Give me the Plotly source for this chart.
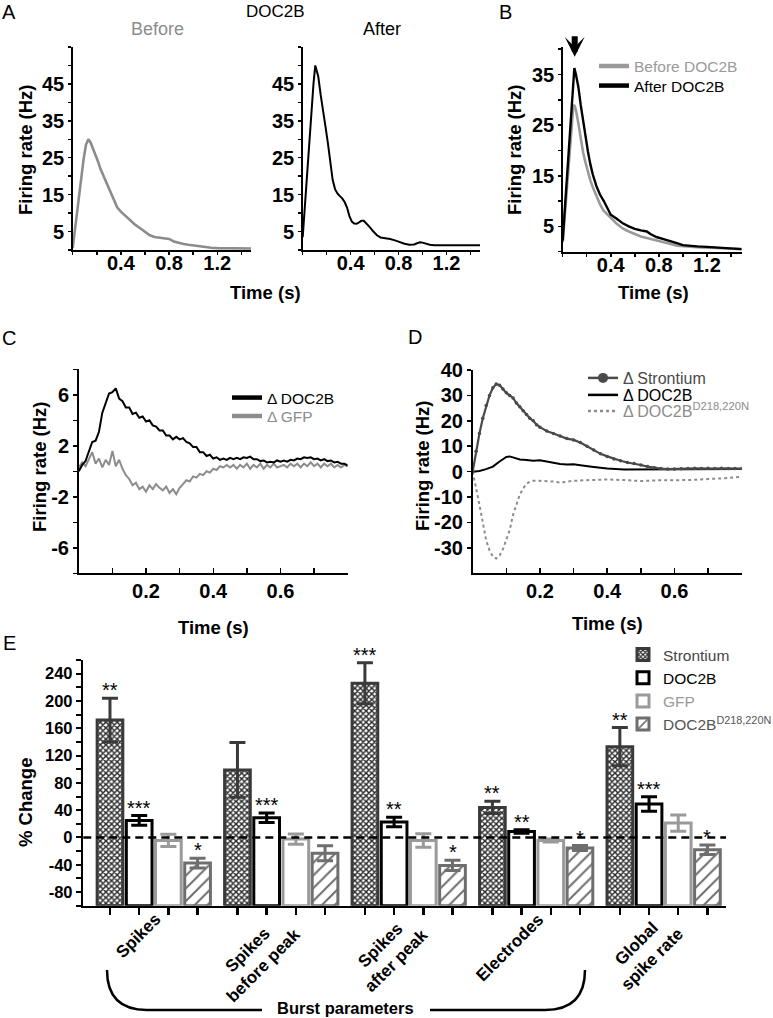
import plotly.graph_objects as go

W, H = 773, 1018
FONT = "Liberation Sans, Arial, Helvetica, sans-serif"

# ---------------- Panel A : DOC2B, before / after ----------------
a_before_t = [0, 0.03, 0.06, 0.09, 0.11, 0.13, 0.15, 0.17, 0.19, 0.21, 0.23, 0.25, 0.28, 0.31, 0.34,
              0.37, 0.40, 0.44, 0.48, 0.52, 0.56, 0.60, 0.64, 0.68, 0.72, 0.76, 0.80, 0.84, 0.88,
              0.92, 0.96, 1.00, 1.05, 1.10, 1.15, 1.20, 1.25, 1.30, 1.35, 1.40, 1.45, 1.48]
a_before_hz = [0.5, 9, 17.5, 24.5, 28.5, 30, 29, 27.5, 25.5, 24, 22, 20.5, 18, 15.5, 13.3,
               11.5, 10.4, 9.2, 7.9, 6.8, 5.9, 4.9, 4.0, 3.5, 3.4, 3.3, 3.0, 2.3, 1.9,
               1.6, 1.4, 1.2, 0.9, 0.7, 0.6, 0.5, 0.5, 0.45, 0.45, 0.4, 0.4, 0.4]
a_after_t = [0, 0.03, 0.06, 0.09, 0.105, 0.12, 0.13, 0.15, 0.17, 0.19, 0.21, 0.23, 0.25, 0.27,
             0.29, 0.31, 0.33, 0.35, 0.37, 0.39, 0.41, 0.43, 0.45, 0.47, 0.49, 0.51, 0.53, 0.56,
             0.59, 0.62, 0.65, 0.69, 0.73, 0.77, 0.81, 0.85, 0.89, 0.93, 0.96, 0.98, 1.00, 1.03,
             1.06, 1.10, 1.15, 1.20, 1.25, 1.30, 1.35, 1.40, 1.45, 1.48]
a_after_hz = [3.5, 18, 31.5, 45, 50, 48, 47, 42, 37, 33.5, 29, 24, 19, 16.5,
              15.3, 14.6, 14, 13, 11.5, 9.2, 7.7, 7.2, 7.1, 7.5, 7.9, 7.9, 7.3, 6.2,
              5.0, 4.0, 3.4, 3.3, 3.0, 2.6, 2.1, 1.7, 1.4, 1.5, 1.9, 2.1, 2.0, 1.6,
              1.4, 1.3, 1.3, 1.4, 1.4, 1.4, 1.5, 1.4, 1.4, 1.3]
a_xticks = [0.4, 0.8, 1.2]
a_yticks = [5, 15, 25, 35, 45]

# ---------------- Panel B : averaged before / after ----------------
b_before_t = [0, 0.03, 0.06, 0.089, 0.10, 0.11, 0.13, 0.15, 0.17, 0.19, 0.21, 0.23, 0.25, 0.28,
              0.31, 0.34, 0.37, 0.40, 0.45, 0.50, 0.55, 0.60, 0.65, 0.70, 0.76, 0.84, 0.90,
              0.95, 1.00, 1.06, 1.15, 1.28, 1.38, 1.49]
b_before_hz = [1.85, 11, 20.1, 29, 28.8, 28, 25.4, 22.3, 19.6, 17.6, 15.8, 14.1, 12.8, 11,
               9.4, 8.1, 7.3, 6.7, 5.5, 4.6, 4.0, 3.5, 3.0, 2.7, 2.3, 1.85, 1.5,
               1.2, 1.1, 1.0, 0.85, 0.73, 0.6, 0.5]
b_after_t = [0, 0.03, 0.06, 0.09, 0.097, 0.11, 0.13, 0.15, 0.17, 0.19, 0.21, 0.23, 0.25, 0.28,
             0.31, 0.34, 0.37, 0.40, 0.45, 0.50, 0.55, 0.60, 0.65, 0.70, 0.73, 0.78, 0.84,
             0.89, 0.95, 1.00, 1.06, 1.12, 1.20, 1.28, 1.36, 1.44, 1.49]
b_after_hz = [2.2, 12.7, 23.2, 33.8, 36.3, 35, 32.6, 29, 25.6, 22.5, 19.8, 17.3, 15.3, 13,
              11.3, 10.1, 8.6, 7.3, 6.5, 5.6, 5.0, 4.5, 4.2, 4.0, 3.5, 2.9, 2.5,
              2.2, 1.7, 1.3, 1.1, 1.05, 0.95, 0.85, 0.7, 0.55, 0.5]
b_yticks = [5, 15, 25, 35]
b_legend = ["Before DOC2B", "After DOC2B"]

# ---------------- Panel C : delta DOC2B / delta GFP ----------------
c_t = [0.00, 0.01, 0.02, 0.03, 0.04, 0.05, 0.06, 0.07, 0.08, 0.09,
       0.10, 0.11, 0.12, 0.13, 0.14, 0.15, 0.16, 0.17, 0.18, 0.19,
       0.20, 0.21, 0.22, 0.23, 0.24, 0.25, 0.26, 0.27, 0.28, 0.29,
       0.30, 0.31, 0.32, 0.33, 0.34, 0.35, 0.36, 0.37, 0.38, 0.39,
       0.40, 0.41, 0.42, 0.43, 0.44, 0.45, 0.46, 0.47, 0.48, 0.49,
       0.50, 0.51, 0.52, 0.53, 0.54, 0.55, 0.56, 0.57, 0.58, 0.59,
       0.60, 0.61, 0.62, 0.63, 0.64, 0.65, 0.66, 0.67, 0.68, 0.69,
       0.70, 0.71, 0.72, 0.73, 0.74, 0.75, 0.76, 0.77, 0.78, 0.79, 0.80]
c_doc2b = [0.0, 0.5, 0.8, 1.6, 2.3, 2.4, 3.1, 4.6, 5.3, 6.1,
           6.2, 6.5, 5.7, 5.5, 5.0, 5.0, 4.5, 4.6, 4.2, 4.3,
           3.9, 4.0, 3.6, 3.5, 3.2, 3.2, 2.8, 2.8, 2.5, 2.7,
           2.5, 2.6, 2.3, 2.2, 1.9, 1.9, 1.5, 1.5, 1.2, 1.3,
           1.0, 1.1, 0.9, 1.0, 0.9, 1.05, 0.95, 1.05, 0.95, 1.1,
           1.05, 1.15, 0.95, 0.95, 0.8, 0.85, 0.7, 0.75, 0.7, 0.85,
           0.75, 0.85, 0.75, 0.9, 0.85, 1.0, 0.95, 1.1, 1.05, 1.1,
           0.95, 1.0, 0.85, 0.95, 0.8, 0.85, 0.7, 0.75, 0.6, 0.6, 0.45]
c_gfp = [0.3, 0.7, 0.4, 0.9, 1.5, 0.6, 1.0, 0.3, 0.9, 0.5,
         1.6, 0.4, 0.9, 0.2, -0.3, -0.6, -1.1, -0.9, -1.4, -1.2,
         -1.6, -1.1, -1.4, -1.0, -1.3, -1.5, -1.2, -1.7, -1.4, -1.8,
         -1.3, -1.0, -0.7, -0.8, -0.4, -0.5, -0.2, -0.3, 0.0, -0.1,
         0.2, 0.1, 0.4, 0.3, 0.5, 0.3, 0.5, 0.2, 0.5, 0.3,
         0.6, 0.2, 0.5, 0.3, 0.6, 0.2, 0.5, 0.3, 0.6, 0.3,
         0.4, 0.5, 0.3, 0.6, 0.4, 0.6, 0.3, 0.6, 0.4, 0.7,
         0.4, 0.6, 0.3, 0.6, 0.4, 0.6, 0.3, 0.5, 0.3, 0.5, 0.4]
c_xticks = [0.2, 0.4, 0.6]
c_yticks = [-6, -2, 2, 6]
c_legend = ["Δ DOC2B", "Δ GFP"]

# ---------------- Panel D : delta Strontium / DOC2B / mutant ----------------
d_sr_t = [0, 0.01, 0.02, 0.03, 0.04, 0.05, 0.06, 0.07, 0.08, 0.09, 0.10, 0.11, 0.12, 0.13, 0.14,
          0.15, 0.16, 0.17, 0.18, 0.19, 0.20, 0.22, 0.24, 0.26, 0.28, 0.30, 0.32, 0.34, 0.36,
          0.38, 0.40, 0.42, 0.44, 0.46, 0.48, 0.50, 0.52, 0.54, 0.56, 0.58, 0.60, 0.62, 0.64,
          0.66, 0.68, 0.70, 0.72, 0.74, 0.76, 0.78, 0.80]
d_sr = [0, 8, 15, 21, 26, 30, 33, 34.5, 34, 32.5, 31, 30, 29, 27, 25.5,
        24, 22.5, 21, 20, 18.5, 17.5, 16, 15, 14, 13, 12.5, 11.5, 10, 8.5,
        7, 6, 5, 4.3, 3.6, 3.2, 2.6, 2, 1.5, 1.2, 1, 1, 1.1, 1.2,
        1.3, 1.2, 1.3, 1.2, 1.3, 1.2, 1.2, 1.2]
d_doc_t = [0, 0.02, 0.04, 0.06, 0.08, 0.10, 0.11, 0.12, 0.14, 0.16, 0.18, 0.20, 0.22, 0.24, 0.26,
           0.28, 0.30, 0.32, 0.34, 0.36, 0.38, 0.40, 0.45, 0.50, 0.55, 0.60, 0.65, 0.70, 0.75, 0.80]
d_doc = [0, 0.3, 1, 2, 4, 5.8, 6, 5.5, 4.8, 4.6, 4.3, 4.5, 4, 3.5, 3,
         2.8, 2.9, 2.5, 2, 1.8, 1.5, 1.2, 0.8, 0.8, 1, 1, 1, 1, 1, 1]
d_mut_t = [0, 0.01, 0.02, 0.03, 0.04, 0.05, 0.06, 0.07, 0.08, 0.09, 0.10, 0.11, 0.12, 0.13,
           0.14, 0.15, 0.16, 0.17, 0.18, 0.20, 0.22, 0.24, 0.26, 0.28, 0.30, 0.35, 0.40, 0.45,
           0.50, 0.55, 0.60, 0.65, 0.70, 0.75, 0.80]
d_mut = [0, -6, -13, -20, -27, -31, -33.5, -34.2, -33, -30.5, -27, -23, -17, -12.5,
         -9, -6.6, -4.8, -3.9, -3.6, -3.6, -3.7, -3.9, -4.3, -3.8, -3.6, -3.3, -3.1, -3.3,
         -3.7, -3.4, -3.3, -3.3, -2.9, -2.6, -2.0]
d_yticks = [-30, -20, -10, 0, 10, 20, 30, 40]
d_legend = ["Δ Strontium", "Δ DOC2B", "Δ DOC2B<sup>D218,220N</sup>"]

# ---------------- Panel E : % change bar chart ----------------
e_groups = ["Spikes", "Spikes<br>before peak", "Spikes<br>after peak", "Electrodes", "Global<br>spike rate"]
e_series = ["Strontium", "DOC2B", "GFP", "DOC2B<sup>D218,220N</sup>"]
e_strontium = [172, 99, 226, 44, 133]
e_strontium_err = [32, 40, 30, 9, 28]
e_doc2b = [25, 29, 22.5, 8.8, 49]
e_doc2b_err = [7, 7, 7, 2.5, 10.5]
e_gfp = [-4.4, -2.4, -4.4, -4.4, 21]
e_gfp_err = [9, 7.5, 10, 2.2, 12]
e_mutant = [-37.6, -23, -41, -15.6, -18]
e_mutant_err = [7, 11, 7.5, 3.7, 7]
e_strontium_sig = ["**", "", "***", "**", "**"]
e_doc2b_sig = ["***", "***", "**", "**", "***"]
e_gfp_sig = ["", "", "", "", ""]
e_mutant_sig = ["*", "", "*", "*", "*"]
e_yticks = [-80, -40, 0, 40, 80, 120, 160, 200, 240]
e_bracket_label = "Burst parameters"

# ================= styling / layout helpers =================
GRAY = "#8c8c8c"
LGRAY = "#9a9a9a"
DGRAY = "#4a4a4a"


def px_x(px):
    return px / W


def px_y(py):
    return 1 - py / H


def tick_txt(vals):
    return [f"{v:g}" for v in vals]


def make_axis(dom, rng, tickvals, minor_dtick, anchor, ticks, ticklen, lw, fs,
              standoff=None, horizontal=True, showlabels=True, tickwidth=1.5):
    if horizontal:
        domain = [px_x(dom[0]), px_x(dom[1])]
    else:
        domain = [px_y(dom[1]), px_y(dom[0])]
    ax = dict(domain=domain, range=rng, anchor=anchor, showline=True, linecolor="black",
              linewidth=lw, showgrid=False, zeroline=False, ticks=ticks, ticklen=ticklen,
              tickwidth=tickwidth, tickcolor="black", tickmode="array", tickvals=tickvals,
              ticktext=tick_txt(tickvals), showticklabels=showlabels, automargin=False,
              tickfont=dict(family=FONT, size=fs, color="black", weight="bold"),
              fixedrange=True, layer="above traces")
    if minor_dtick:
        ax["minor"] = dict(tickmode="linear", tick0=0, dtick=minor_dtick, ticks=ticks,
                           ticklen=ticklen, tickwidth=tickwidth, tickcolor="black", showgrid=False)
    if standoff is not None:
        ax["ticklabelstandoff"] = standoff
    return ax


fig = go.Figure()

# ---- Panel A traces
fig.add_trace(go.Scatter(x=a_before_t, y=a_before_hz, xaxis="x", yaxis="y", mode="lines",
                         line=dict(color=GRAY, width=2.6), showlegend=False, hoverinfo="skip"))
fig.add_trace(go.Scatter(x=a_after_t, y=a_after_hz, xaxis="x2", yaxis="y2", mode="lines",
                         line=dict(color="black", width=2), showlegend=False, hoverinfo="skip"))
# ---- Panel B traces
fig.add_trace(go.Scatter(x=b_before_t, y=b_before_hz, xaxis="x3", yaxis="y3", mode="lines",
                         line=dict(color=LGRAY, width=2.6), showlegend=False, hoverinfo="skip"))
fig.add_trace(go.Scatter(x=b_after_t, y=b_after_hz, xaxis="x3", yaxis="y3", mode="lines",
                         line=dict(color="black", width=2.4), showlegend=False, hoverinfo="skip"))
# ---- Panel C traces
fig.add_trace(go.Scatter(x=c_t, y=c_gfp, xaxis="x4", yaxis="y4", mode="lines",
                         line=dict(color=GRAY, width=2), showlegend=False, hoverinfo="skip"))
fig.add_trace(go.Scatter(x=c_t, y=c_doc2b, xaxis="x4", yaxis="y4", mode="lines",
                         line=dict(color="black", width=2), showlegend=False, hoverinfo="skip"))
# ---- Panel D traces
fig.add_trace(go.Scatter(x=d_mut_t, y=d_mut, xaxis="x5", yaxis="y5", mode="lines",
                         line=dict(color=GRAY, width=2, dash="dot"), showlegend=False, hoverinfo="skip"))
fig.add_trace(go.Scatter(x=d_doc_t, y=d_doc, xaxis="x5", yaxis="y5", mode="lines",
                         line=dict(color="black", width=2), showlegend=False, hoverinfo="skip"))
fig.add_trace(go.Scatter(x=d_sr_t, y=d_sr, xaxis="x5", yaxis="y5", mode="lines+markers",
                         line=dict(color=DGRAY, width=2.2), marker=dict(size=3.5, color=DGRAY),
                         showlegend=False, hoverinfo="skip"))

# ---- Panel E bars
BASE = -100
GROUP_STEP = 4.366
series_vals = [e_strontium, e_doc2b, e_gfp, e_mutant]
series_err = [e_strontium_err, e_doc2b_err, e_gfp_err, e_mutant_err]
series_sig = [e_strontium_sig, e_doc2b_sig, e_gfp_sig, e_mutant_sig]
series_line = ["#3a3a3a", "black", LGRAY, "#6e6e6e"]
series_pattern = [dict(shape="x", size=4, solidity=0.6, fgcolor="#2a2a2a", bgcolor="white"),
                  dict(shape=""),
                  dict(shape=""),
                  dict(shape="/", size=9, solidity=0.22, fgcolor="#6e6e6e", bgcolor="white")]
series_text_color = ["#444444", "black", LGRAY, "#555555"]

annotations = []
bar_positions = []
for k in range(4):
    xs = [g * GROUP_STEP + k for g in range(len(e_groups))]
    bar_positions += xs
    fig.add_trace(go.Bar(
        x=xs, y=[v - BASE for v in series_vals[k]], base=BASE, width=0.88,
        xaxis="x6", yaxis="y6", name=f"<span style='color:{series_text_color[k]}'>{e_series[k]}</span>",
        marker=dict(color="white", line=dict(color=series_line[k], width=3), pattern=series_pattern[k]),
        error_y=dict(type="data", array=series_err[k], color=series_line[k], thickness=3, width=8),
        legend="legend", showlegend=True, hoverinfo="skip"))
    for g in range(len(e_groups)):
        if series_sig[k][g]:
            annotations.append(dict(text=series_sig[k][g], x=xs[g], y=series_vals[k][g] + series_err[k][g],
                                    xref="x6", yref="y6", showarrow=False, yanchor="bottom",
                                    yshift=-5, font=dict(family=FONT, size=20, color="black")))

# category labels (rotated)
for g, lab in enumerate(e_groups):
    nlines = lab.count("<br>") + 1
    annotations.append(dict(text=f"<b>{lab}</b>", x=g * GROUP_STEP + 1.5, y=BASE, xref="x6", yref="y6",
                            showarrow=False, xanchor="right", yanchor="top", textangle=-45,
                            align="center", xshift=14 if nlines == 1 else 26, yshift=-1,
                            font=dict(family=FONT, size=17, color="black")))

# ---- legends (single-item legends for B, C, D) via empty legend-only traces
TEXT_GAP = 40
leg_defs = [
    # name, color, width, dash, mode, text-left px, center-y px, font size
    (b_legend[0], LGRAY, 4.5, "solid", "lines", 634, 66.5, 15.5),
    (b_legend[1], "black", 4.5, "solid", "lines", 634, 86, 15.5),
    (c_legend[0], "black", 4.5, "solid", "lines", 267, 398, 15.5),
    (c_legend[1], GRAY, 4.5, "solid", "lines", 267, 416.5, 15.5),
    (d_legend[0], DGRAY, 2.5, "solid", "lines+markers", 623, 378, 16),
    (d_legend[1], "black", 2.5, "solid", "lines", 623, 395, 16),
    (d_legend[2], GRAY, 2.5, "dot", "lines", 623, 411, 16),
]
layout_legends = {}
for i, (name, col, lw, dash, mode, tx, ty, fs) in enumerate(leg_defs):
    lid = f"legend{i + 2}"
    layout_legends[lid] = dict(x=px_x(tx - TEXT_GAP), y=px_y(ty), xanchor="left", yanchor="middle",
                               bgcolor="rgba(0,0,0,0)", borderwidth=0,
                               font=dict(family=FONT, size=fs, color=col))
    fig.add_trace(go.Scatter(x=[None], y=[None], mode=mode, name=name, legend=lid,
                             line=dict(color=col, width=lw, dash=dash),
                             marker=dict(size=10, color=col), showlegend=True, hoverinfo="skip"))


def ann_px(text, x, y, size, color="black", angle=0):
    return dict(text=text, x=px_x(x), y=px_y(y), xref="paper", yref="paper", showarrow=False,
                xanchor="center", yanchor="middle", textangle=angle,
                font=dict(family=FONT, size=size, color=color))


# panel letters & titles
annotations += [
    ann_px("A", 9, 12, 20), ann_px("B", 505, 12, 20), ann_px("C", 9, 338, 20),
    ann_px("D", 415, 337, 20), ann_px("E", 9, 643, 20),
    ann_px("DOC2B", 275, 12, 17), ann_px("Before", 157, 29, 18, GRAY), ann_px("After", 382, 29, 18),
    ann_px("<b>Firing rate (Hz)</b>", 26, 150, 18.5, angle=-90),
    ann_px("<b>Firing rate (Hz)</b>", 515, 150, 18.5, angle=-90),
    ann_px("<b>Firing rate (Hz)</b>", 39, 467, 18.5, angle=-90),
    ann_px("<b>Firing rate (Hz)</b>", 422, 465, 18.5, angle=-90),
    ann_px("<b>% Change</b>", 25, 803, 18.5, angle=-90),
    ann_px("<b>Time (s)</b>", 265, 293, 18.5), ann_px("<b>Time (s)</b>", 653, 292, 18.5),
    ann_px("<b>Time (s)</b>", 213, 627, 18.5), ann_px("<b>Time (s)</b>", 607, 623, 18.5),
    ann_px(f"<b>{e_bracket_label}</b>", 345, 1008, 16.5),
]
# arrow above panel B peak
annotations.append(dict(text="", x=0.1, y=38.5, xref="x3", yref="y3", showarrow=True, ax=0, ay=-22,
                        arrowhead=3, arrowsize=0.55, arrowwidth=6, arrowcolor="black", standoff=0))


def P(x, y):
    return f"{px_x(x):.5f},{px_y(y):.5f}"


shapes = [
    dict(type="line", xref="x6 domain", yref="y6", x0=0, x1=1, y0=0, y1=0,
         line=dict(color="black", width=2.5, dash="8px,5px"), layer="above"),
    dict(type="path", xref="paper", yref="paper",
         path=f"M{P(107, 970)} Q{P(107, 1010)} {P(147, 1010)} L{P(262, 1010)}",
         line=dict(color="black", width=2.5)),
    dict(type="path", xref="paper", yref="paper",
         path=f"M{P(430, 1010)} L{P(545, 1010)} Q{P(585, 1010)} {P(585, 970)}",
         line=dict(color="black", width=2.5)),
]

layout = dict(
    template="none",
    width=W, height=H, margin=dict(l=0, r=0, t=0, b=0, pad=0, autoexpand=False),
    paper_bgcolor="white", plot_bgcolor="white",
    font=dict(family=FONT, color="black"),
    showlegend=True, barmode="overlay",
    xaxis=make_axis((72.7, 251), [0, 1.48], a_xticks, 0.2, "y", "outside", 3, 2, 20, standoff=-9),
    yaxis=make_axis((47, 250), [0, 55], a_yticks, 5, "x", "outside", 3, 1.5, 20, horizontal=False),
    xaxis2=make_axis((302.7, 480), [0, 1.48], a_xticks, 0.2, "y2", "outside", 3, 2, 20, standoff=-9),
    yaxis2=make_axis((47, 250), [0, 55], a_yticks, 5, "x2", "outside", 3, 1.5, 20, horizontal=False),
    xaxis3=make_axis((562.7, 741.7), [0, 1.49], a_xticks, 0.2, "y3", "outside", 3, 2, 20, standoff=-9),
    yaxis3=make_axis((46.7, 251.7), [0, 40.5], b_yticks, 5, "x3", "outside", 3, 1.5, 20, horizontal=False),
    xaxis4=make_axis((78.8, 347.7), [0, 0.8], c_xticks, 0.1, "y4", "inside", 5, 1.8, 20, standoff=-1),
    yaxis4=make_axis((369.3, 573.3), [-8, 8], c_yticks, 2, "x4", "outside", 4, 1.8, 20, horizontal=False),
    xaxis5=make_axis((472.7, 741.7), [0, 0.8], c_xticks, 0.1, "y5", "inside", 5, 1.8, 20, standoff=-1),
    yaxis5=make_axis((370, 573.3), [-40, 40], d_yticks, None, "x5", "outside", 4, 1.8, 20, horizontal=False),
    xaxis6=make_axis((83.3, 726), [-0.914, 21.1], sorted(bar_positions), None, "y6", "outside", 7, 2.5, 16,
                     showlabels=False, tickwidth=2.5),
    yaxis6=make_axis((660, 905.7), [-100, 260], e_yticks, 20, "x6", "outside", 5, 2.5, 16.5,
                     horizontal=False, tickwidth=2),
    legend=dict(x=px_x(663 - TEXT_GAP), y=px_y(638), xanchor="left", yanchor="top", bgcolor="rgba(0,0,0,0)",
                borderwidth=0, font=dict(family=FONT, size=15.5, color="black"), tracegroupgap=0),
    annotations=annotations, shapes=shapes,
)
layout.update(layout_legends)
fig.update_layout(**layout)

fig.write_html("out.html", config={"displayModeBar": False, "staticPlot": True},
               post_script="document.documentElement.style.margin='0';document.body.style.margin='0';"
                           "document.body.style.overflow='hidden';")
